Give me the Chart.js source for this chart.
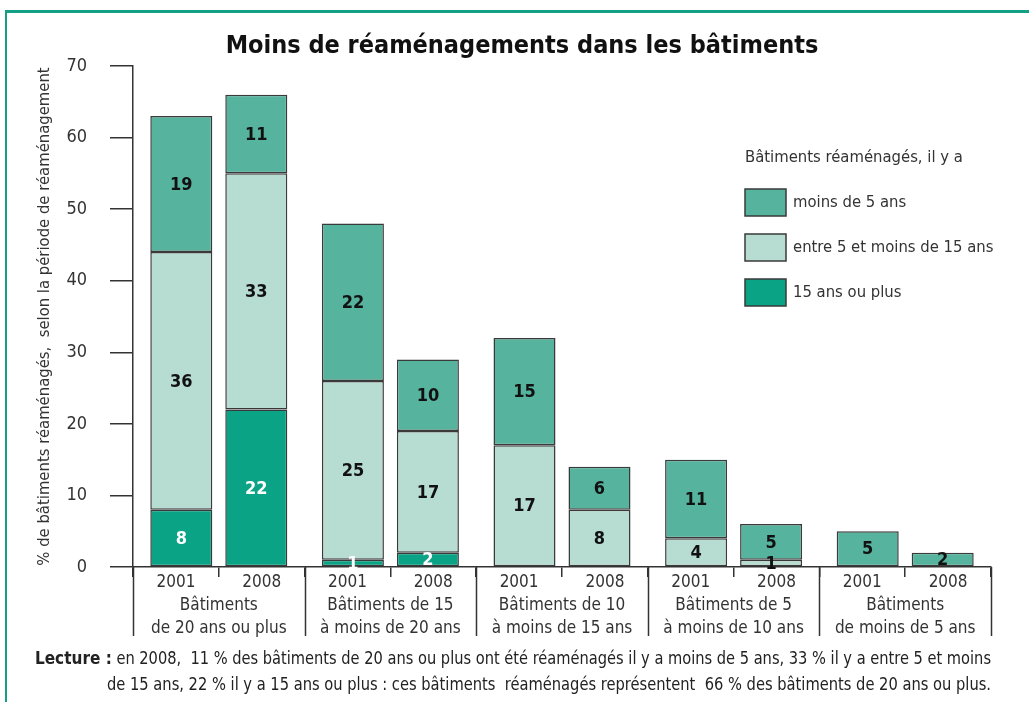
<!DOCTYPE html>
<html>
<head>
<meta charset="utf-8">
<script src="https://cdn.jsdelivr.net/npm/chart.js@4.4.0/dist/chart.umd.min.js"></script>
<style>
  body { margin: 0; background: #fff; overflow: hidden; }
  #wrap { position: relative; width: 1029px; height: 702px; }
  #frame { position: absolute; left: 5px; top: 10px; width: 1024px; height: 692px;
           border-top: 3px solid #14a085; border-left: 2px solid #14a085; box-sizing: border-box; }
  #chart-container { position: absolute; left: 0; top: 0; }
</style>
</head>
<body>
<div id="wrap">
  <div id="frame"></div>
  <canvas id="chart-container" width="1029" height="702"></canvas>
</div>
<script>
const FONT = '"Liberation Sans Narrow", "DejaVu Sans Condensed", "Liberation Sans", sans-serif';

const chartTitle = 'Moins de réaménagements dans les bâtiments';
const yTitle = '% de bâtiments réaménagés,  selon la période de réaménagement';
const legendTitle = 'Bâtiments réaménagés, il y a';

const groups = [
  ['Bâtiments', 'de 20 ans ou plus'],
  ['Bâtiments de 15', 'à moins de 20 ans'],
  ['Bâtiments de 10', 'à moins de 15 ans'],
  ['Bâtiments de 5', 'à moins de 10 ans'],
  ['Bâtiments', 'de moins de 5 ans']
];
const years = ['2001', '2008'];
const yearTicks = ['2001', '2008', '2001', '2008', '2001', '2008', '2001', '2008', '2001', '2008'];
const yTicks = [0, 10, 20, 30, 40, 50, 60, 70];

const seriesNames = ['15 ans ou plus', 'entre 5 et moins de 15 ans', 'moins de 5 ans'];
const seriesColors = ['#0aa385', '#b7dcd1', '#56b39e'];
const labelColors = ['#ffffff', '#111111', '#111111'];

// 15 ans ou plus
const plus15_2001 = [8, 1, null, null, null];
const plus15_2008 = [22, 2, null, null, null];
// entre 5 et moins de 15 ans
const entre_2001 = [36, 25, 17, 4, null];
const entre_2008 = [33, 17, 8, 1, null];
// moins de 5 ans
const moins5_2001 = [19, 22, 15, 11, 5];
const moins5_2008 = [11, 10, 6, 5, 2];

const lectureBold = 'Lecture :';
const lecture1 = ' en 2008,  11 % des bâtiments de 20 ans ou plus ont été réaménagés il y a moins de 5 ans, 33 % il y a entre 5 et moins';
const lecture2 = 'de 15 ans, 22 % il y a 15 ans ou plus : ces bâtiments  réaménagés représentent  66 % des bâtiments de 20 ans ou plus.';

const byYear = {
  '2001': [plus15_2001, entre_2001, moins5_2001],
  '2008': [plus15_2008, entre_2008, moins5_2008]
};

const datasets = [];
years.forEach(yr => {
  byYear[yr].forEach((vals, i) => {
    datasets.push({
      label: seriesNames[i],
      data: vals,
      stack: yr,
      xAxisID: 'x',
      yAxisID: 'y',
      backgroundColor: seriesColors[i],
      borderColor: '#3a3a3a',
      borderWidth: 1.5,
      borderSkipped: false,
      categoryPercentage: 0.874,
      barPercentage: 0.827,
      labelColor: labelColors[i]
    });
  });
});

const extras = {
  id: 'extras',
  afterDatasetsDraw(chart) {
    const ctx = chart.ctx;
    ctx.save();
    // value labels
    ctx.font = 'bold 18px ' + FONT;
    ctx.textAlign = 'center';
    ctx.textBaseline = 'middle';
    chart.data.datasets.forEach((ds, di) => {
      const meta = chart.getDatasetMeta(di);
      meta.data.forEach((el, j) => {
        const v = ds.data[j];
        if (v == null) return;
        ctx.fillStyle = ds.labelColor;
        ctx.fillText(String(v), el.x, (el.y + el.base) / 2 + 1);
      });
    });
    ctx.restore();
  },
  afterDraw(chart) {
    const ctx = chart.ctx;
    const area = chart.chartArea;
    const xs = chart.scales.x;
    ctx.save();
    // group separators
    ctx.strokeStyle = '#333';
    ctx.lineWidth = 1.5;
    const n = groups.length;
    const edges = [area.left];
    for (let i = 0; i < n - 1; i++) {
      edges.push((xs.getPixelForValue(i) + xs.getPixelForValue(i + 1)) / 2);
    }
    edges.push(area.right);
    edges.forEach(px => {
      ctx.beginPath();
      ctx.moveTo(Math.round(px) + 0.5, area.bottom);
      ctx.lineTo(Math.round(px) + 0.5, xs.bottom - 2);
      ctx.stroke();
    });

    // title
    ctx.fillStyle = '#111';
    ctx.font = 'bold 25px ' + FONT;
    ctx.textAlign = 'center';
    ctx.textBaseline = 'middle';
    ctx.fillText(chartTitle, 522, 46);

    // legend
    ctx.font = '16.5px ' + FONT;
    ctx.textAlign = 'left';
    ctx.fillStyle = '#333';
    ctx.fillText(legendTitle, 745, 158);
    const order = [2, 1, 0];
    order.forEach((si, k) => {
      const top = 189 + k * 45;
      ctx.fillStyle = seriesColors[si];
      ctx.fillRect(745, top, 41, 27);
      ctx.strokeStyle = '#3a3a3a';
      ctx.lineWidth = 1.5;
      ctx.strokeRect(745, top, 41, 27);
      ctx.fillStyle = '#333';
      ctx.fillText(seriesNames[si], 793, top + 14);
    });

    // lecture
    ctx.fillStyle = '#222';
    ctx.font = 'bold 17px ' + FONT;
    ctx.fillText(lectureBold, 35, 660);
    const w = ctx.measureText(lectureBold).width;
    ctx.font = '17px ' + FONT;
    ctx.fillText(lecture1, 35 + w, 660, 991 - 35 - w);
    ctx.fillText(lecture2, 107, 686, 991 - 107);
    ctx.restore();
  }
};

const ctx = document.getElementById('chart-container').getContext('2d');
new Chart(ctx, {
  type: 'bar',
  data: { labels: groups, datasets: datasets },
  plugins: [extras],
  options: {
    responsive: false,
    animation: false,
    layout: { padding: { left: 0, right: 38, top: 66, bottom: 64 } },
    plugins: {
      legend: { display: false },
      title: { display: false },
      tooltip: { enabled: false }
    },
    scales: {
      y: {
        stacked: true,
        min: 0,
        max: 70,
        afterBuildTicks: s => { s.ticks = yTicks.map(v => ({ value: v })); },
        afterFit: s => { s.width = 133; },
        grid: { drawOnChartArea: false, tickLength: 23, color: '#333', lineWidth: 1.5 },
        border: { display: true, color: '#333', width: 1.5 },
        ticks: { color: '#333', font: { family: FONT, size: 18 }, padding: 23 },
        title: {
          display: true,
          text: yTitle,
          color: '#333',
          font: { family: FONT, size: 16.5 },
          padding: { top: 35, bottom: 0 }
        }
      },
      years: {
        type: 'category',
        position: 'bottom',
        axis: 'x',
        weight: 0,
        labels: yearTicks,
        offset: true,
        afterFit: s => { s.height = 27; },
        grid: { display: true, drawOnChartArea: false, offset: true, tickLength: 10, color: '#333', lineWidth: 1.5 },
        border: { display: true, color: '#333', width: 1.5 },
        ticks: { color: '#333', font: { family: FONT, size: 17, lineHeight: 1 }, padding: -3, autoSkip: false, maxRotation: 0 }
      },
      x: {
        type: 'category',
        position: 'bottom',
        weight: 1,
        stacked: true,
        offset: true,
        afterFit: s => { s.height = 44; },
        grid: { display: false, drawTicks: false, tickLength: 0 },
        border: { display: false },
        ticks: { color: '#333', font: { family: FONT, size: 17, lineHeight: 1.3 }, padding: 1, autoSkip: false, maxRotation: 0 }
      }
    }
  }
});
</script>
</body>
</html>
